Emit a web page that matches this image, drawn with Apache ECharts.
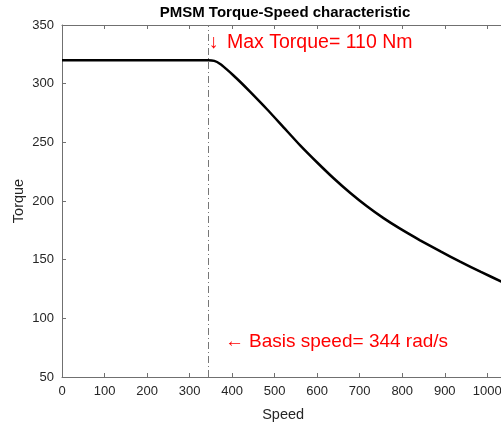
<!DOCTYPE html>
<html><head><meta charset="utf-8">
<script src="https://cdn.jsdelivr.net/npm/echarts@6/dist/echarts.min.js"></script>
<style>html,body{margin:0;padding:0;background:#fff}#c{width:501px;height:424px}</style>
</head><body><div id="c"></div>
<script>
const titleText = 'PMSM Torque-Speed characteristic';
const xName = 'Speed';
const yName = 'Torque';
const speed  = [0, 100, 200, 300, 344, 358, 372, 386, 402, 420, 442, 482, 521, 560, 600, 638, 678, 717, 756, 795, 842, 890, 936, 985, 1033, 1040];
const torque = [320, 320, 320, 320, 320, 319.4, 316.8, 312.6, 307.4, 301.2, 293.2, 278.2, 262.8, 247.4, 232.8, 219.6, 206.8, 195.5, 185.4, 176.4, 166.5, 157, 148.3, 139.6, 131.3, 130.1];
const baseSpeed = 344;
const maxTorqueArrow = '\u2193';
const maxTorqueLabel = 'Max Torque= 110 Nm';
const baseSpeedArrow = '\u2190';
const baseSpeedLabel = 'Basis speed= 344 rad/s';
const xTicks = {min: 0, max: 1040, interval: 100};
const yTicks = {min: 50, max: 350, interval: 50};

const chart = echarts.init(document.getElementById('c'), null, {renderer: 'canvas'});
const font = 'Liberation Sans, Arial, Helvetica, sans-serif';
const axisCol = '#707070';
const labCol = '#262626';
chart.setOption({
  animation: false,
  grid: {left: 62, top: 25, bottom: 47, right: -3.3, containLabel: false, outerBoundsMode: 'none'},
  xAxis: [{
    type: 'value', min: xTicks.min, max: xTicks.max, interval: xTicks.interval,
    name: xName, nameLocation: 'middle', nameGap: 30, nameMoveOverlap: false,
    nameTextStyle: {fontFamily: font, fontSize: 14.5, color: labCol},
    axisLine: {show: true, lineStyle: {color: axisCol, width: 1}},
    axisTick: {show: true, inside: true, length: 4, lineStyle: {color: axisCol}},
    axisLabel: {fontFamily: font, fontSize: 13, color: labCol, margin: 8,
      showMaxLabel: false, formatter: v => String(v)},
    splitLine: {show: false}
  }, {
    type: 'value', position: 'top', min: xTicks.min, max: xTicks.max, interval: xTicks.interval,
    axisLine: {show: true, lineStyle: {color: axisCol, width: 1}},
    axisTick: {show: true, inside: true, length: 4, lineStyle: {color: axisCol}},
    axisLabel: {show: false}, splitLine: {show: false}
  }],
  yAxis: {
    type: 'value', min: yTicks.min, max: yTicks.max, interval: yTicks.interval,
    name: yName, nameLocation: 'middle', nameGap: 36, nameRotate: 90, nameMoveOverlap: false,
    nameTextStyle: {fontFamily: font, fontSize: 14.5, color: labCol},
    axisLine: {show: true, lineStyle: {color: axisCol, width: 1}},
    axisTick: {show: true, inside: true, length: 4, lineStyle: {color: axisCol}},
    axisLabel: {fontFamily: font, fontSize: 13, color: labCol, margin: 8},
    splitLine: {show: false}
  },
  series: [{
    type: 'line', data: speed.map((s, i) => [s, torque[i]]),
    smooth: 0.2, showSymbol: false, clip: true,
    lineStyle: {color: '#000', width: 2.5},
    markLine: {silent: true, symbol: ['none', 'none'], label: {show: false},
      lineStyle: {color: '#777', width: 1, type: [7, 3, 1, 3]},
      data: [{xAxis: baseSpeed}]}
  }],
  graphic: [
    {type: 'text', x: 285, y: 5, style: {text: titleText, fill: '#000', align: 'center',
      font: 'bold 15px ' + font}},
    {type: 'text', x: 209, y: 33, style: {text: maxTorqueArrow, fill: '#ff0000',
      font: '19.5px ' + font}},
    {type: 'text', x: 227, y: 33, style: {text: maxTorqueLabel, fill: '#ff0000',
      font: '19.5px ' + font}},
    {type: 'text', x: 225, y: 332, style: {text: baseSpeedArrow, fill: '#ff0000',
      font: '19px ' + font}},
    {type: 'text', x: 249, y: 332, style: {text: baseSpeedLabel, fill: '#ff0000',
      font: '19px ' + font}}
  ]
});
</script></body></html>
